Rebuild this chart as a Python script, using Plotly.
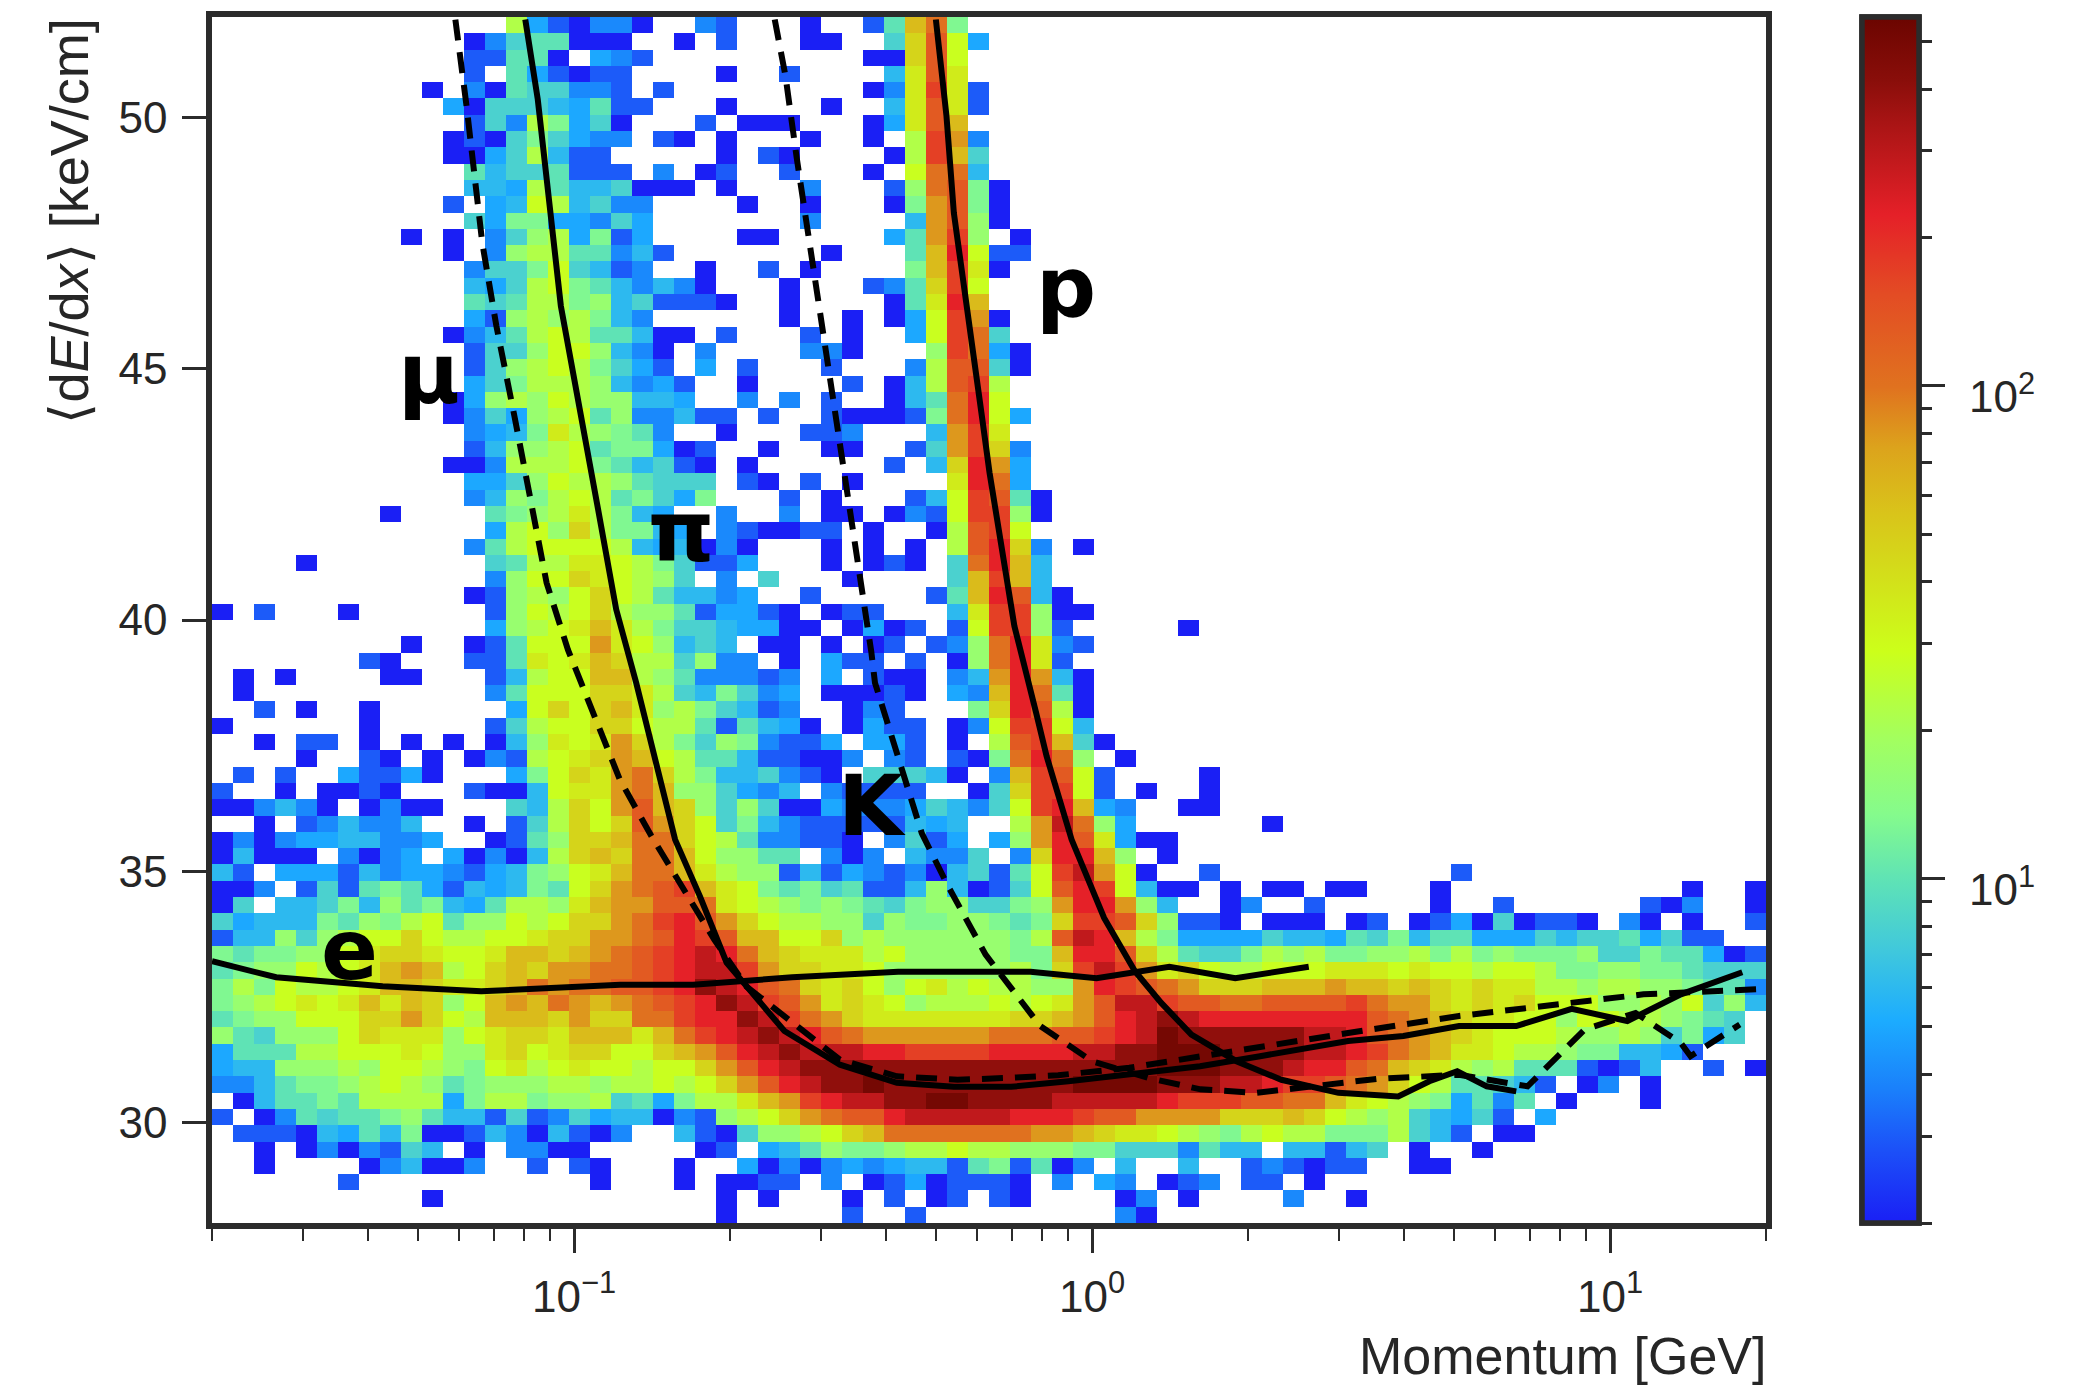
import numpy as np
import plotly.graph_objects as go

# Count levels used by the cell map below ('.' = empty bin)
LEVEL_CHARS = "0123456789abcdefghijkl"
LEVEL_COUNTS = [2, 3, 4, 5, 6, 8, 10, 13, 17, 22, 28, 36, 46, 60, 80, 100, 130, 170, 220, 290, 400, 510]

# Histogram cells, top row first, left to right (groups of five columns)
CELLS = [
"..... ..... ....9 31022 0..21 ...0. .16df 7....",
"..... ..... ..025 66000 ..0.1 ...00 ..5cg a3...",
"..... ..... ..116 60.32 1.... ..... .00cg a....",
"..... ..... ..1.6 31011 ....0 ..1.. ..4bg b....",
"..... ..... 0.206 55221 .1... ..... .02bh b1...",
"..... ..... .3055 54361 1...0 ....0 ..4bg b1...",
"..... ..... ..152 97350 ...1. 000.. .03bg d....",
"..... ..... .0105 75322 .10.0 ...0. .0.9h e2...",
"..... ..... .0035 9411. ....0 .10.. ..09h d5...",
"..... ..... ..645 56111 .2.01 ..1.. .0.af f4...",
"..... ..... ..443 96445 000.0 ...2. ..18f g70..",
"..... ..... .1.34 a9452 2.... 0..0. ..07e g70..",
"..... ..... ..537 73325 3.... ...2. ...4e g80..",
"..... ....0 .0.25 89371 3.... 00... ..36e h8.0.",
"..... ..... .0.28 99662 41... ....0 ...6d ia11.",
"..... ..... ..255 7a541 2..0. .1.0. ...7d hb0..",
"..... ..... ..435 9a764 2420. ..0.. .126c ha...",
"..... ..... ..656 99784 51110 ..0.. ..06b id...",
"..... ..... ..318 98974 2.... ..0.. 0.03a he0..",
"..... ..... .0246 9a966 400.1 ...1. 0..3a hf5..",
"..... ..... ..155 8aa84 20.2. ...22 0...8 hf30.",
"..... ..... ..158 9a975 31.3. 1...1 ...29 gg50.",
"..... ..... ..357 99984 231.. 0.... 1.049 gh9..",
"..... ..... .0389 8a988 443.. 2.2.1 ..046 fia..",
"..... ..... .0253 89a68 22411 .1..1 00017 fia3.",
"..... ..... ..234 7b987 62..0 ...11 2...4 ehb..",
"..... ..... ..148 89a67 7301. .0..0 0..15 ehc2.",
"..... ..... .0029 99a76 4510. 0.... ..1.4 cie3.",
"..... ..... ..335 8a998 6555. 10.1. 0.... bif3.",
"..... ..... ..248 79a96 7537. ..1.0 ...14 ahg60",
"..... ...0. ...67 89b97 43..2 ..2.0 0.021 ahh80",
"..... ..... ...39 a8c97 743.2 10011 .0..0 9gha.",
"..... ..... ..269 aaaa9 43402 0...0 .0.0. 9gic2 .0...",
"....0 ..... ...56 99bba 97511 3...0 .010. 5fid4",
"..... ..... ...28 aacba 985.2 .5... 0.... 5dhd4",
"..... ..... ..018 98aca 96442 3..1. ....1 6dig4 0....",
"0.1.. .0... ...18 a9ac9 88613 310.0 11... 4bhh8 00...",
"..... ..... ...38 9abdb 97554 3300. 0301. 1ahh8 1.... .0...",
"..... ....0 ..016 aaaeb a8454 .00.0 .01.1 28fib 21...",
"..... ..10. ..116 babdc 99582 2.0.3 11.1. 08fib 1....",
".0.0. ...00 ...14 9aadd 98622 212.3 .100. 24eie 40...",
".0... ..... ...26 aaacc b9547 523.0 0010. 32dif 60...",
"..1.0 ..0.. ....3 acacd b8975 412.. 021.. .7cig 90...",
"0.... ..0.. ...15 9aacc a9961 6430. 0311. 02ahh a4...",
"..0.1 1.0.0 .0.04 8babe c9758 72113 .331. 0.9gh d50..",
"....0 ..10. 0.021 9abce da966 41100 2.21. 107fi f8.0.",
".1.1. .3113 0...3 7acbe fc974 45210 .5554 0.2dh ga1.. ..0..",
"1..0. 0010. ..100 4abbe fd885 324.2 1111. .05ch ha1.0 ..0..",
"00242 0.020 0...5 49cae gdc85 85003 22235 425ah id32. .00..",
"..0.1 24224 ..0.1 59cac geca5 74211 11143 4..9e jf83. ..... 0....",
"02023 34422 3..01 68ccd ffca9 62211 0.251 3.38e igb30 0....",
"04000 .2023 .3020 49cdc ffda8 866.2 02.42 25.2c iid8. 0....",
"41.33 31423 32134 78abd ffdb9 88141 32120 4516a hjea0 ..1.. ..... ....1",
"002.1 51676 31434 76ace fghdb a7675 61148 4015a giha4 00.0. 00.00 ...0. ..... ..... 0..0",
"05.44 57486 74369 98bde eggfb a9878 76578 85578 eiie8 4..02 ..1.. ...0. .1... ...10 2..0",
"53444 76879 a688a 9acce fhige ca998 85877 88767 chhgc 8110. 000.0 1.013 05011 0.20. 0..1",
"14485 89aac a99aa bccee fgihg ddaac 89888 88879 gjid9 73333 54436 57466 33354 55635 11..",
"76778 8abcc baabd dcdef ghiji fdcbb b9a88 88877 diigc 96557 98977 88979 78777 85576 6301",
"6788a 9abde d9acd ceeff ghijj heccb ba888 88897 chjhe bca99 aaabb babaa 9aa97 78877 6555",
"797a9 9abdd cbbcd feffg ghikj igfcb ca8ab 9a998 8eihg feccc ddded dcdcb cbb99 89988 7662",
"789ab abdbd c8ade dfede fghik jhgeb cba89 99a9a begjj hggff ggggh feecb cbcaa a8898 a584",
"6788a aacce ca9dd dcecc ffhii kjhfe cbbbb bbbcc degij kjiii iiiii gfedc bbaa8 aa998 765.",
"86588 8acbb b8abc cbddd bdfhi jkjig feeee eefff gghij lkkkk kkjji gfedc baaa9 88985 735.",
"36669 9aaab a88bc abcca acdeg ijkjj jiihh hhiii ijjkk lllkk kkjji hfedb ba998 77443 1...",
"34488 898aa 987ab 9abaa 9aace gijkk kkkkk kkkkk kkkkk lllkk kjiig fdcb9 89666 1014. .1.0",
"22467 789a9 86788 89989 9a9ac egijk klkkk kkkkk kllll kkkjj ihhgf eca96 6541. 02.0. ....",
".0466 76999 93799 78895 63799 bdehi jjkkl lkkkk jjjjj ihhhg gffdb a9873 626.0 ...0. ....",
"1.026 56678 64415 12534 40218 9acef ggijj jjjii ihgge eeecc cdca9 89543 51.3.",
".1110 43647 00142 04102 ..410 5889a cdfff ffffe edcbb a9879 a9977 79541 .00..",
"..0.0 20215 4.0.2 200.. ...01 .3468 77899 a9988 87755 52644 .4414 5.0.. 0....",
"..0.. ..024 002.. 1.10. ..0.. 30202 32344 16716 02.4. .4..1 21011 ..00.",
"..... .1... ..... ...0. ..0.0 011.2 .0130 1110. 2.32. 012.1 1.0..",
"..... ..... 0.... ..... ....0 .0... 0.1.0 1.10. ...02 .0... .2..0",
"..... ..... ..... ..... ....0 ..... 1..1. ..... ...20",
]

# Curves: momentum [GeV], <dE/dx> [keV/cm]
PI_P = [0.0805, 0.0851, 0.0943, 0.1038, 0.1107, 0.1206, 0.1318, 0.1567, 0.175, 0.197, 0.2547, 0.326, 0.42, 0.541, 0.698, 0.9, 1.18, 1.616, 2.11, 3.12, 3.99, 5.11, 6.59, 8.43, 10.8, 13.7, 18.0]
PI_E = [51.95, 50.36, 46.25, 43.99, 42.33, 40.21, 38.75, 35.63, 34.5, 33.18, 31.82, 31.15, 30.79, 30.71, 30.71, 30.82, 30.95, 31.12, 31.32, 31.62, 31.72, 31.92, 31.92, 32.26, 32.02, 32.55, 32.99]
PROTON_P = [0.4994, 0.5235, 0.541, 0.567, 0.614, 0.634, 0.708, 0.78, 0.817, 0.913, 1.055, 1.21, 1.36, 1.555, 1.90, 2.32, 2.99, 3.90, 4.48, 5.07, 5.78, 6.59]
PROTON_E = [51.95, 50.03, 48.1, 46.65, 43.99, 42.93, 39.88, 38.15, 37.29, 35.63, 34.07, 33.01, 32.38, 31.75, 31.22, 30.85, 30.59, 30.52, 30.82, 31.02, 30.72, 30.62]
ELECTRON_P = [0.02, 0.0266, 0.0427, 0.0662, 0.1228, 0.1698, 0.2637, 0.4223, 0.7606, 1.02, 1.41, 1.89, 2.62]
ELECTRON_E = [33.21, 32.89, 32.71, 32.61, 32.74, 32.74, 32.89, 33.0, 33.0, 32.87, 33.1, 32.87, 33.1]
MUON_P = [0.059, 0.062, 0.0665, 0.0708, 0.0767, 0.0885, 0.0973, 0.1089, 0.1225, 0.141, 0.162, 0.1865, 0.215, 0.2547, 0.326, 0.42, 0.55, 0.70, 0.86, 1.18, 2.11, 3.12, 5.11, 8.37, 11.6, 20.0]
MUON_E = [51.95, 50.23, 47.5, 45.85, 44.06, 40.74, 39.41, 38.15, 36.83, 35.7, 34.7, 33.64, 32.71, 32.11, 31.25, 30.92, 30.85, 30.89, 30.94, 31.09, 31.52, 31.78, 32.12, 32.38, 32.55, 32.66]
KAON_P = [0.244, 0.256, 0.269, 0.296, 0.323, 0.352, 0.375, 0.381, 0.426, 0.469, 0.525, 0.623, 0.794, 1.0, 1.28, 1.62, 2.07, 2.69, 3.56, 5.11, 6.93, 8.93, 11.2, 13.7, 14.3, 17.8]
KAON_E = [51.95, 50.82, 49.2, 46.38, 43.86, 41.14, 39.35, 38.75, 37.16, 35.76, 34.74, 33.34, 31.92, 31.22, 30.89, 30.66, 30.59, 30.72, 30.87, 30.95, 30.72, 31.85, 32.18, 31.58, 31.32, 31.95]

# Particle labels: text, log10(momentum), dE/dx
LABEL_TEXT = ["e", "\u03bc", "\u03c0", "K", "p"]
LABEL_LOGP = [-1.434, -1.281, -0.794, -0.425, -0.05]
LABEL_E = [33.44, 44.9, 41.75, 36.3, 46.6]

X_MAJOR = [0.1, 1, 10]
X_MAJOR_TEXT = ["10<sup>\u22121</sup>", "10<sup>0</sup>", "10<sup>1</sup>"]
X_MINOR = [0.02, 0.03, 0.04, 0.05, 0.06, 0.07, 0.08, 0.09, 0.2, 0.3, 0.4, 0.5, 0.6, 0.7, 0.8, 0.9,
           2, 3, 4, 5, 6, 7, 8, 9, 20]
Y_MAJOR = [30, 35, 40, 45, 50]
CB_MINOR = [2, 3, 4, 5, 6, 7, 8, 9, 20, 30, 40, 50, 60, 70, 80, 90, 200, 300, 400, 500]
CB_MAJOR = [10, 100]
CB_MAJOR_TEXT = ["10<sup>1</sup>", "10<sup>2</sup>"]
Z_MIN, Z_MAX = 2, 560

COLORSCALE = [
    [0.0, "#1a1ff5"], [0.06, "#1c50f8"], [0.111, "#1a80fb"], [0.168, "#1cacff"],
    [0.226, "#40c8dc"], [0.285, "#5fe3b5"], [0.339, "#85fb8c"], [0.40, "#a2ff60"],
    [0.474, "#ccff1a"], [0.588, "#d9c41a"], [0.642, "#dca41c"], [0.693, "#e0721f"],
    [0.77, "#e34c24"], [0.836, "#e52028"], [0.913, "#a81414"], [0.947, "#8a0e0a"],
    [1.0, "#6b0500"],
]

INK = "#2b2b2b"
TEXT = "#262626"
FONT = "Liberation Sans"

lookup = dict(zip(LEVEL_CHARS, LEVEL_COUNTS))
bad = []
matrix = []
for i, row in enumerate(CELLS):
    groups = row.split()
    if any(len(g) != 5 for g in groups[:-1]) or len("".join(groups)) > 74:
        bad.append(i)
    chars = "".join(groups).ljust(74, ".")
    matrix.append([np.log10(lookup[c]) if c != "." else None for c in chars])
if bad or len(CELLS) != 74:
    raise SystemExit(f"bad rows {bad} / {len(CELLS)}")
matrix = matrix[::-1]

x_edges = np.logspace(np.log10(0.02), np.log10(20), 75)
y_edges = np.linspace(28, 52, 75)

zmin, zmax = np.log10(Z_MIN), np.log10(Z_MAX)
# The page keeps an 8 px body margin, so the figure is 8 px smaller and starts at (8, 8)
W, H = 2066, 1381
L, R, T, B = 204, 308, 9, 166
PLOT_W = W - L - R
CB_X = (1854 - L) / PLOT_W
CB_LABEL_X = (1959 - L) / PLOT_W


def colorbar(vals, ticklen, tickwidth):
    return dict(
        tickmode="array", tickvals=[float(np.log10(v)) for v in vals], showticklabels=False,
        ticks="outside", ticklen=ticklen, tickwidth=tickwidth, tickcolor=INK,
        thickness=57, thicknessmode="pixels", len=1, lenmode="fraction",
        x=CB_X, xanchor="left", xpad=0, y=0.5, yanchor="middle", ypad=0,
        outlinecolor=INK, outlinewidth=5.5,
    )


fig = go.Figure()
fig.add_trace(go.Heatmap(
    x=x_edges, y=y_edges, z=matrix, zmin=zmin, zmax=zmax, colorscale=COLORSCALE,
    hoverongaps=False, colorbar=colorbar(CB_MINOR, 11, 2.5),
))
# Carries the second colorbar, whose longer ticks mark the decades; its cell is off the axes
fig.add_trace(go.Heatmap(
    x=[1000, 2000, 3000], y=[100, 200], z=[[zmin, zmax]], zmin=zmin, zmax=zmax,
    colorscale=COLORSCALE, colorbar=colorbar(CB_MAJOR, 24, 3), hoverinfo="skip",
))


def curve(p, e, dash, name):
    fig.add_trace(go.Scatter(x=p, y=e, mode="lines", name=name, showlegend=False,
                             line=dict(color="black", width=6, dash=dash)))


curve(PI_P, PI_E, "solid", "pi")
curve(PROTON_P, PROTON_E, "solid", "p")
curve(ELECTRON_P, ELECTRON_E, "solid", "e")
curve(MUON_P, MUON_E, "21px,12px", "mu")
curve(KAON_P, KAON_E, "21px,12px", "K")

annotations = [
    dict(x=x, y=y, xref="x", yref="y", text=f"<b>{t}</b>", showarrow=False,
         font=dict(family="DejaVu Sans", size=84, color="black"))
    for t, x, y in zip(LABEL_TEXT, LABEL_LOGP, LABEL_E)
]
annotations.append(dict(
    x=1, y=0, xref="paper", yref="paper", xanchor="right", yanchor="top", yshift=-102, xshift=2,
    text="Momentum [GeV]", showarrow=False, font=dict(family=FONT, size=52, color=TEXT)))
annotations.append(dict(
    x=0, y=1, xref="paper", yref="paper", xanchor="right", yanchor="top", xshift=-112, yshift=0,
    textangle=-90, text="\u27e8d<i>E</i>/d<i>x</i>\u27e9 [keV/cm]", showarrow=False,
    font=dict(family=FONT, size=54, color=TEXT)))
# Colorbar decade labels sit a little below their ticks in the reference
for v, t in zip(CB_MAJOR, CB_MAJOR_TEXT):
    annotations.append(dict(
        x=CB_LABEL_X, y=(np.log10(v) - zmin) / (zmax - zmin), xref="paper", yref="paper",
        xanchor="left", yanchor="middle", yshift=-8, text=t, showarrow=False,
        font=dict(family=FONT, size=44, color=TEXT)))

fig.update_layout(
    width=W, height=H, margin=dict(l=L, r=R, t=T, b=B, autoexpand=False),
    paper_bgcolor="white", plot_bgcolor="white", showlegend=False,
    annotations=annotations,
    xaxis=dict(
        type="log", range=[np.log10(0.02), np.log10(20)], showgrid=False, zeroline=False,
        showline=True, mirror=True, linecolor=INK, linewidth=5.5,
        tickmode="array", tickvals=X_MAJOR, ticktext=X_MAJOR_TEXT,
        ticks="outside", ticklen=24, tickwidth=3, tickcolor=INK, ticklabelstandoff=6,
        tickfont=dict(family=FONT, size=44, color=TEXT),
        minor=dict(tickmode="array", tickvals=X_MINOR, ticks="outside", ticklen=12, tickwidth=2,
                   tickcolor=INK, showgrid=False),
    ),
    yaxis=dict(
        range=[28, 52], showgrid=False, zeroline=False,
        showline=True, mirror=True, linecolor=INK, linewidth=5.5,
        tickmode="array", tickvals=Y_MAJOR,
        ticks="outside", ticklen=24, tickwidth=3, tickcolor=INK, ticklabelstandoff=6,
        tickfont=dict(family=FONT, size=44, color=TEXT),
    ),
)

fig.write_html("out.html")
